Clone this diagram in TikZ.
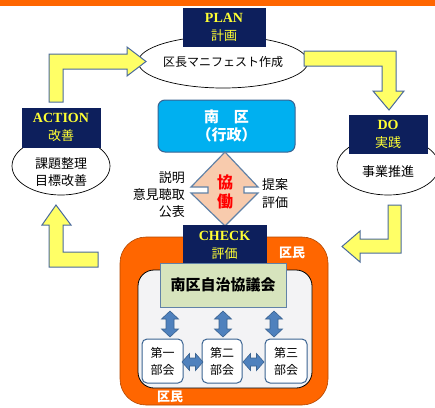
\documentclass[tikz,border=0pt]{standalone}
\usepackage{fontspec}
\setmainfont{Liberation Serif}
\newfontfamily\jp{Noto Sans CJK JP}
\usetikzlibrary{shapes.geometric}
\definecolor{navyC}{HTML}{0D1F5C}
\definecolor{ytext}{HTML}{FFFF33}
\definecolor{yfill}{HTML}{FFFF66}
\definecolor{yedge}{HTML}{4A6A9C}
\definecolor{orangeC}{HTML}{FF6600}
\definecolor{cyanC}{HTML}{00B0F0}
\definecolor{peachC}{HTML}{F8CBAD}
\definecolor{greenC}{HTML}{D7E4BD}
\definecolor{blueA}{HTML}{4F81BD}
\definecolor{blueE}{HTML}{3A6391}
\definecolor{grayIn}{HTML}{F3F3F5}
\begin{document}
\begin{tikzpicture}[x=1pt,y=-1pt,
  ell/.style={ellipse, draw=black, line width=0.7pt, fill=white, inner sep=0pt},
  navybox/.style={rectangle, fill=navyC, draw=navyC, text=ytext, align=center, inner sep=0pt, font=\fontsize{14}{18}\selectfont},
  yarrow/.style={fill=yfill, draw=yedge, line width=1pt, line join=miter},
  barrow/.style={fill=blueA, draw=blueE, line width=0.6pt},
  subbox/.style={rectangle, rounded corners=5pt, draw=blueE, line width=1pt, fill=white, align=center, inner sep=0pt, font=\jp\fontsize{12}{17}\selectfont},
  jtext/.style={font=\jp\fontsize{13}{17}\selectfont, inner sep=0pt},
  vdbl/.pic={\draw[barrow] (0,-13) -- (8.5,-5) -- (4,-5) -- (4,5) -- (8.5,5) -- (0,13) -- (-8.5,5) -- (-4,5) -- (-4,-5) -- (-8.5,-5) -- cycle;},
  hdbl/.pic={\draw[barrow] (-10.5,0) -- (-3,-8.5) -- (-3,-4) -- (3,-4) -- (3,-8.5) -- (10.5,0) -- (3,8.5) -- (3,4) -- (-3,4) -- (-3,8.5) -- cycle;}
]
\useasboundingbox (0,0) rectangle (435,407);
\fill[orangeC] (0,0) rectangle (435,6);

% ellipses
\node[ell, minimum width=128pt, minimum height=52pt, font=\jp\fontsize{12}{14}\selectfont] (planell) at (223,62) {区長マニフェスト作成};
\node[ell, minimum width=98pt, minimum height=58pt] (actell) at (61,166) {};
\node[ell, minimum width=102pt, minimum height=58pt] (doell) at (388,166) {};
\node[jtext, align=center] (acttxt) at (61,172) {課題整理\\目標改善};
\node[jtext] (dotxt) at (388,172) {事業推進};

% navy boxes
\node[navybox, minimum width=82pt, minimum height=38pt] (plan) at (224,27) {\textbf{PLAN}\\{\jp\fontsize{13}{17}\selectfont 計画}};
\node[navybox, minimum width=78pt, minimum height=39pt] (action) at (61,127.5) {\textbf{ACTION}\\{\jp\fontsize{13}{17}\selectfont 改善}};
\node[navybox, minimum width=78pt, minimum height=38pt] (do) at (388,134) {\textbf{DO}\\{\jp\fontsize{13}{17}\selectfont 実践}};

% yellow bent arrows
\draw[yarrow] (49,102) -- (49,54) -- (127,54) -- (127,47) -- (146,61.5) -- (127,76) -- (127,69) -- (63,69) -- (63,102) -- cycle;
\draw[yarrow] (304,51) -- (396,51) -- (396,91) -- (404,91) -- (389,110) -- (373,91) -- (382,91) -- (382,66) -- (304,66) -- cycle;
\draw[yarrow] (401,205) -- (401,253) -- (360,253) -- (360,262) -- (342,246.5) -- (360,231) -- (360,239) -- (388,239) -- (388,205) -- cycle;
\draw[yarrow] (49,267) -- (49,225) -- (42,225) -- (56,205) -- (71,225) -- (63,225) -- (63,252) -- (98,252) -- (98,267) -- cycle;

% center government box
\node[rectangle, rounded corners=7pt, fill=cyanC, draw=blueE, line width=1pt, minimum width=137pt, minimum height=52pt, text=white, align=center, inner sep=0pt, font=\jp\bfseries\fontsize{15}{18}\selectfont] (ku) at (226.5,126) {南\quad 区\\（行政）};

% cooperation double arrow (diamond)
\draw[fill=peachC, draw=blueE!80, line width=1.2pt, line join=miter] (225,152) -- (258,187) -- (244,187) -- (244,193) -- (258,193) -- (225,226) -- (191,193) -- (208,193) -- (208,187) -- (191,187) -- cycle;
\node[text=red, align=center, inner sep=0pt, font=\jp\bfseries\fontsize{16}{19}\selectfont] (kyo) at (225,191.5) {協\\働};
\node[jtext, anchor=east, align=right] (left) at (185,195) {説明\\意見聴取\\公表};
\node[jtext, anchor=west, align=left, font=\jp\fontsize{13}{18}\selectfont] (right) at (262,194) {提案\\評価};

% residents area
\draw[fill=orangeC, draw=orangeC!70!black, line width=0.6pt, rounded corners=26pt] (120,237) rectangle (328,405);
\draw[fill=grayIn, draw=black, line width=0.8pt, rounded corners=16pt] (138,270) rectangle (312,388);
\node[navybox, minimum width=83pt, minimum height=40pt] (check) at (224.5,245) {\textbf{CHECK}\\{\jp\fontsize{13}{17}\selectfont 評価}};
\node[text=white, inner sep=0pt, font=\jp\bfseries\fontsize{13}{15}\selectfont] (km1) at (292,253) {区民};
\node[text=white, inner sep=0pt, font=\jp\bfseries\fontsize{13}{15}\selectfont] (km2) at (170,397) {区民};
\node[rectangle, fill=greenC, draw=blueE!80, line width=1pt, minimum width=126pt, minimum height=44pt, inner sep=0pt, font=\jp\bfseries\fontsize{15}{18}\selectfont] (jichi) at (223,285) {南区自治協議会};

% sub committees
\node[subbox, minimum width=41pt, minimum height=44pt] (b1) at (162.5,361) {第一\\部会};
\node[subbox, minimum width=40pt, minimum height=44pt] (b2) at (222,361) {第二\\部会};
\node[subbox, minimum width=42pt, minimum height=44pt] (b3) at (286,361) {第三\\部会};

\pic at (170,324) {vdbl};
\pic at (223,324) {vdbl};
\pic at (274,324) {vdbl};
\pic at (192.5,362) {hdbl};
\pic at (253.5,362) {hdbl};
\end{tikzpicture}
\end{document}
